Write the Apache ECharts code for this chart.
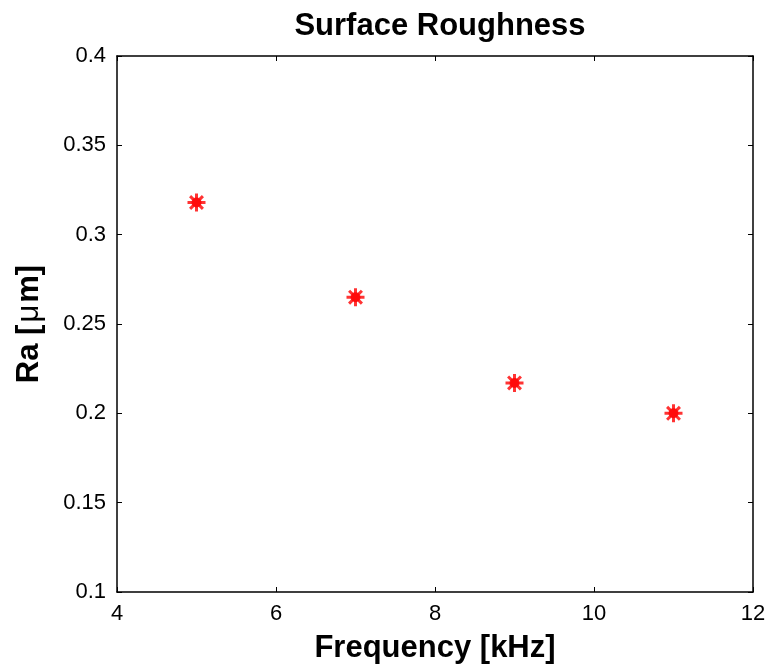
<!DOCTYPE html>
<html>
<head>
<meta charset="utf-8">
<script src="https://cdn.jsdelivr.net/npm/echarts@6/dist/echarts.min.js"></script>
<style>
  html, body { margin: 0; padding: 0; background: #fff; }
  #chart { width: 770px; height: 669px; }
</style>
</head>
<body>
<div id="chart"></div>
<script>
// Surface roughness measurements versus pulse frequency
const frequency = [5, 7, 9, 11];          // kHz
const roughness = [0.318, 0.265, 0.217, 0.200]; // Ra, µm

const xTicks = { min: 4, max: 12, interval: 2 };
const yTicks = { min: 0.1, max: 0.4, interval: 0.05 };

const FONT = '"Liberation Sans", Arial, sans-serif';

// asterisk marker built from crossing strokes
const asterisk = 'path://M0,-8L0,8M-8,0L8,0M-5.7,-5.7L5.7,5.7M-5.7,5.7L5.7,-5.7';

const chart = echarts.init(document.getElementById('chart'));

const tickAxisCommon = {
  axisLine: { show: true, lineStyle: { color: '#000', width: 1.5 } },
  axisTick: { show: true, inside: true, length: 5, lineStyle: { color: '#000', width: 1 } },
  splitLine: { show: false }
};

chart.setOption({
  animation: false,
  backgroundColor: '#fff',
  title: {
    text: 'Surface Roughness',
    left: 435,
    textAlign: 'center',
    top: 6,
    textStyle: { fontFamily: FONT, fontWeight: 'bold', fontSize: 31, color: '#000' }
  },
  grid: { left: 117, right: 17, top: 56, bottom: 77, containLabel: false },
  xAxis: [
    Object.assign({
      type: 'value', position: 'bottom',
      min: xTicks.min, max: xTicks.max, interval: xTicks.interval,
      name: 'Frequency [kHz]', nameLocation: 'middle', nameGap: 41,
      nameTextStyle: { fontFamily: FONT, fontWeight: 'bold', fontSize: 31, color: '#000' },
      axisLabel: { fontFamily: FONT, fontSize: 22, color: '#000', margin: 11 }
    }, tickAxisCommon),
    Object.assign({
      type: 'value', position: 'top',
      min: xTicks.min, max: xTicks.max, interval: xTicks.interval,
      axisLabel: { show: false }
    }, tickAxisCommon)
  ],
  yAxis: [
    Object.assign({
      type: 'value', position: 'left',
      min: yTicks.min, max: yTicks.max, interval: yTicks.interval,
      name: 'Ra [{u|\u03BC}m]', nameLocation: 'middle', nameGap: 72, nameRotate: 90,
      nameTextStyle: {
        fontFamily: FONT, fontWeight: 'bold', fontSize: 31, color: '#000',
        rich: { u: { fontFamily: FONT, fontWeight: 'normal', fontSize: 31, color: '#000', padding: [0, 2, 0, 2] } }
      },
      axisLabel: {
        fontFamily: FONT, fontSize: 22, color: '#000', margin: 11,
        formatter: v => String(parseFloat(v.toFixed(2)))
      }
    }, tickAxisCommon),
    Object.assign({
      type: 'value', position: 'right',
      min: yTicks.min, max: yTicks.max, interval: yTicks.interval,
      axisLabel: { show: false }
    }, tickAxisCommon)
  ],
  series: [
    {
      type: 'scatter',
      xAxisIndex: 0, yAxisIndex: 0,
      data: frequency.map((f, i) => [f, roughness[i]]),
      symbol: asterisk,
      symbolSize: 18,
      itemStyle: { color: 'rgba(0,0,0,0)', borderColor: '#ff0000', borderWidth: 3 },
      z: 3
    },
    {
      type: 'scatter',
      xAxisIndex: 0, yAxisIndex: 0,
      data: frequency.map((f, i) => [f, roughness[i]]),
      symbol: 'circle',
      symbolSize: 10,
      itemStyle: { color: '#ff0000' },
      z: 4
    }
  ]
});
</script>
</body>
</html>
